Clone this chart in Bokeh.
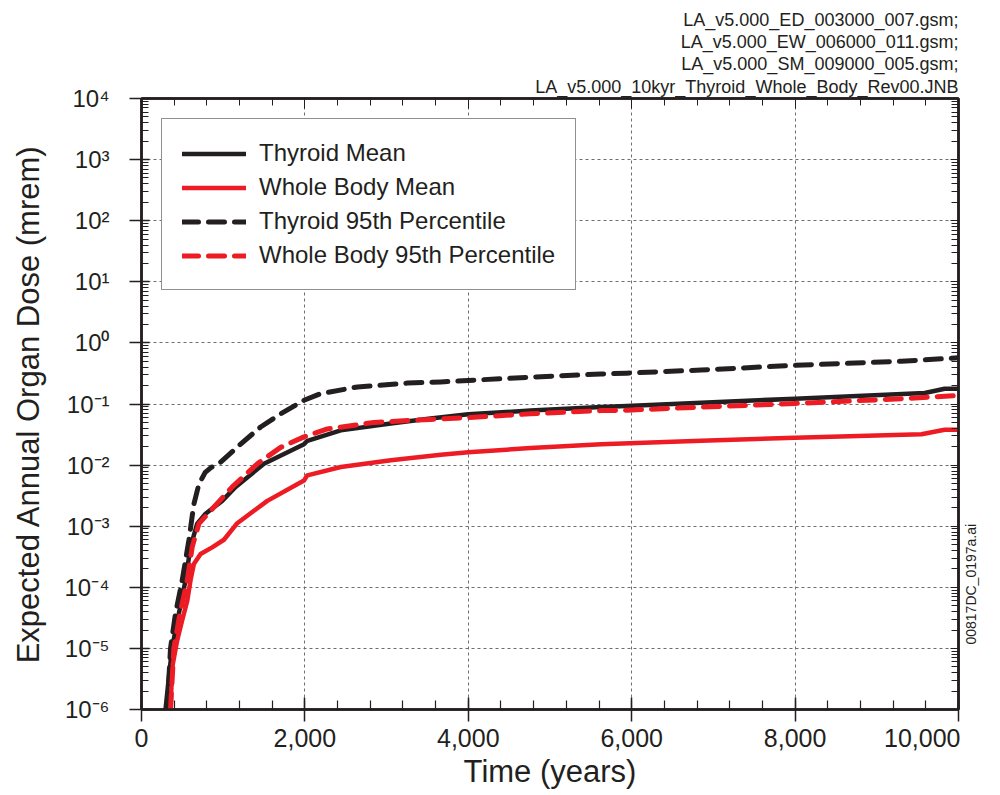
import math
from bokeh.plotting import figure
from bokeh.layouts import row
from bokeh.core.properties import value
from bokeh.models import (FixedTicker, LinearAxis, LogAxis, NumeralTickFormatter,
                          CustomJSTickFormatter, Legend, LegendItem, Title)
from bokeh.embed import file_html
from bokeh.resources import INLINE

# ---------------- data ----------------
thyroid_mean_years = [294, 335, 376, 457, 539, 600, 682, 784, 988, 1152, 1499, 1989, 2030,
                      2439, 3051, 3537, 4000, 4761, 5625, 5937, 6850, 8000, 9587, 9830, 10000]
thyroid_mean_dose = [1e-6, 3.4e-6, 1.05e-5, 3.7e-5, 1.3e-4, 4.6e-4, 1.1e-3, 1.6e-3, 2.6e-3, 4.4e-3,
                     1.05e-2, 2.2e-2, 2.5e-2, 3.7e-2, 4.8e-2, 5.8e-2, 6.8e-2, 7.8e-2, 8.9e-2, 9.3e-2,
                     0.105, 0.122, 0.151, 0.178, 0.178]

wb_mean_years = [355, 376, 437, 498, 560, 600, 641, 723, 865, 1009, 1172, 1540, 1989, 2030, 2439,
                 3051, 3664, 4000, 4761, 5625, 6850, 8000, 9547, 9830, 10000]
wb_mean_dose = [1e-6, 4.9e-6, 1.35e-5, 2.9e-5, 6.0e-5, 1.3e-4, 2.4e-4, 3.5e-4, 4.5e-4, 6.0e-4,
                1.12e-3, 2.6e-3, 5.6e-3, 6.8e-3, 9.3e-3, 1.2e-2, 1.48e-2, 1.62e-2, 1.9e-2, 2.2e-2,
                2.5e-2, 2.8e-2, 3.2e-2, 3.8e-2, 3.8e-2]

thyroid_95_years = [315, 355, 416, 498, 580, 641, 703, 780, 850, 968, 1213, 1458, 1703, 1989, 2194,
                    2643, 3256, 3664, 4000, 4761, 5625, 5937, 6850, 8000, 9300, 10000]
thyroid_95_dose = [1e-6, 1e-5, 3.7e-5, 1.3e-4, 5.9e-4, 2.3e-3, 4.9e-3, 7.6e-3, 9.1e-3, 1.12e-2,
                   2.2e-2, 4.2e-2, 6.9e-2, 0.115, 0.148, 0.19, 0.22, 0.23, 0.243, 0.275, 0.31, 0.32,
                   0.36, 0.43, 0.50, 0.57]

wb_95_years = [355, 396, 470, 560, 621, 703, 907, 1111, 1418, 1703, 1989, 2275, 2847, 3537, 4000,
               4761, 5625, 5937, 6850, 8000, 9300, 10000]
wb_95_dose = [1e-6, 1e-5, 3.7e-5, 1.3e-4, 4.6e-4, 1.1e-3, 2.2e-3, 4.4e-3, 1.05e-2, 1.95e-2, 2.9e-2,
              3.9e-2, 5.0e-2, 5.6e-2, 6.0e-2, 6.9e-2, 7.8e-2, 7.9e-2, 8.9e-2, 0.102, 0.122, 0.138]

series_labels = ["Thyroid Mean", "Whole Body Mean", "Thyroid 95th Percentile",
                 "Whole Body 95th Percentile"]

x_major_ticks = [0, 2000, 4000, 6000, 8000, 10000]
x_minor_ticks = list(range(0, 10001, 400))
y_exponents = [-6, -5, -4, -3, -2, -1, 0, 1, 2, 3, 4]
y_tick_labels = ["10⁻⁶", "10⁻⁵", "10⁻⁴", "10⁻³", "10⁻²", "10⁻¹",
                 "10⁰", "10¹", "10²", "10³", "10⁴"]

file_lines = ["LA_v5.000_ED_003000_007.gsm;",
              "LA_v5.000_EW_006000_011.gsm;",
              "LA_v5.000_SM_009000_005.gsm;",
              "LA_v5.000_10kyr_Thyroid_Whole_Body_Rev00.JNB"]
figure_id = "00817DC_0197a.ai"
x_title = "Time (years)"
y_title = "Expected Annual Organ Dose (mrem)"

# ---------------- styling / geometry ----------------
FONT = "Liberation Sans"
INK = "#231f20"
RED = "#ed1c24"
W, H = 1000, 795
MAIN_W = 960                      # main chart; the strip to its right holds the figure id
LEFT, RIGHT, TOP, BOTTOM = 141, 958, 98, 709
X0, X1 = 0, 10000
E0, E1 = -6, 4

p = figure(width=MAIN_W, height=H, x_range=(X0, X1), y_range=(10.0 ** E0, 10.0 ** E1),
           y_axis_type="log", output_backend="svg", toolbar_location=None,
           min_border_left=LEFT, min_border_right=MAIN_W - RIGHT,
           min_border_top=TOP, min_border_bottom=H - BOTTOM)
p.background_fill_color = "white"
p.border_fill_color = "white"
p.outline_line_color = INK
p.outline_line_width = 2.5

y_major = [10.0 ** e for e in y_exponents]
y_minor = [k * 10.0 ** e for e in y_exponents[:-1] for k in range(2, 10)]
yticker = FixedTicker(ticks=y_major, minor_ticks=y_minor)
xticker = FixedTicker(ticks=x_major_ticks, minor_ticks=x_minor_ticks)

# bottom axis
xa = p.xaxis[0]
xa.ticker = xticker
xa.formatter = NumeralTickFormatter(format="0,0")
xa.axis_line_color = INK
xa.axis_line_width = 2.5
xa.major_tick_line_color = INK
xa.major_tick_line_width = 1.5
xa.minor_tick_line_color = INK
xa.minor_tick_line_width = 1.2
xa.major_tick_out = 12
xa.major_tick_in = 12
xa.minor_tick_in = 9
xa.minor_tick_out = 0
xa.major_label_standoff = 7
xa.major_label_text_font = FONT
xa.major_label_text_font_size = "25px"
xa.major_label_text_color = INK
xa.axis_label = x_title
xa.axis_label_text_font = FONT
xa.axis_label_text_font_size = "31px"
xa.axis_label_text_font_style = "normal"
xa.axis_label_text_color = INK
xa.axis_label_standoff = 4

# left axis
ya = p.yaxis[0]
ya.ticker = yticker
ya.formatter = CustomJSTickFormatter(
    args=dict(labels=y_tick_labels, exps=y_exponents),
    code="const e = Math.round(Math.log10(tick)); const i = exps.indexOf(e); "
         "return i >= 0 ? labels[i] : '';")
ya.axis_line_color = INK
ya.axis_line_width = 2.5
ya.major_tick_line_color = INK
ya.major_tick_line_width = 1.5
ya.minor_tick_line_color = INK
ya.minor_tick_line_width = 1.0
ya.major_tick_out = 12
ya.major_tick_in = 8
ya.minor_tick_in = 7
ya.minor_tick_out = 0
ya.major_label_standoff = 20
ya.major_label_text_font = FONT
ya.major_label_text_font_size = "24px"
ya.major_label_text_color = INK
ya.axis_label = y_title
ya.axis_label_text_font = FONT
ya.axis_label_text_font_size = "31px"
ya.axis_label_text_font_style = "normal"
ya.axis_label_text_color = INK
ya.axis_label_standoff = 15

# right and top axes (ticks only, no labels)
blank = CustomJSTickFormatter(code="return '';")
ra = LogAxis(ticker=yticker, formatter=blank, axis_line_color=INK,
             axis_line_width=2.5, major_tick_in=8, major_tick_out=0, minor_tick_in=7,
             minor_tick_out=0, major_tick_line_color=INK, minor_tick_line_color=INK,
             major_label_standoff=0)
p.add_layout(ra, "right")

ta = LinearAxis(ticker=xticker, formatter=blank, axis_line_color=INK,
                axis_line_width=2.5, major_tick_in=10, major_tick_out=0, minor_tick_in=7,
                minor_tick_out=0, major_tick_line_color=INK, minor_tick_line_color=INK,
                major_label_standoff=0)
p.add_layout(ta, "above")

# file names, top right (added bottom line first: later titles stack further up)
for i, line in enumerate(reversed(file_lines)):
    p.add_layout(Title(text=line, align="right", text_font=FONT, text_font_size="18px",
                       text_font_style="normal", text_color=INK,
                       standoff=3 if i == 0 else 0, offset=0),
                 "above")

# grid
p.xgrid.ticker = xticker
p.ygrid.ticker = yticker
for g in (p.xgrid[0], p.ygrid[0]):
    g.grid_line_color = "#6d6e71"
    g.grid_line_dash = "3 3"
    g.grid_line_width = 1

# series
r1 = p.line(thyroid_mean_years, thyroid_mean_dose, line_color=INK, line_width=4.5,
            line_join="round", line_cap="round")
r2 = p.line(wb_mean_years, wb_mean_dose, line_color=RED, line_width=4.5,
            line_join="round", line_cap="round")
r3 = p.line(thyroid_95_years, thyroid_95_dose, line_color=INK, line_width=5,
            line_dash="16 10", line_join="round", line_cap="round")
r4 = p.line(wb_95_years, wb_95_dose, line_color=RED, line_width=5,
            line_dash="16 10", line_join="round", line_cap="round")

legend = Legend(items=[LegendItem(label=lab, renderers=[r])
                       for lab, r in zip(series_labels, [r1, r2, r3, r4])],
                location="top_left", margin=20, padding=20, spacing=6,
                glyph_width=64, glyph_height=27, label_height=27, label_standoff=13,
                label_text_font=FONT, label_text_font_size="24px", label_text_color=INK,
                border_line_color=INK, border_line_width=1.2,
                background_fill_color="white", background_fill_alpha=1.0)
p.add_layout(legend)

# narrow strip on the right holding the vertical figure id (pixel-like coordinates)
SW = W - MAIN_W
side = figure(width=SW, height=H, x_range=(0, SW), y_range=(0, H),
              output_backend="svg", toolbar_location=None,
              x_axis_location=None, y_axis_location=None, min_border=0)
side.grid.visible = False
side.outline_line_color = None
side.background_fill_color = "white"
side.border_fill_color = "white"
side.text(x=[970 - MAIN_W], y=[H - 632], text=[figure_id], angle=math.pi / 2,
          text_font=value(FONT), text_font_size="14px", text_color=INK,
          text_align="center", text_baseline="middle")

open("out.html", "w").write(file_html(row(p, side, spacing=0), INLINE))
